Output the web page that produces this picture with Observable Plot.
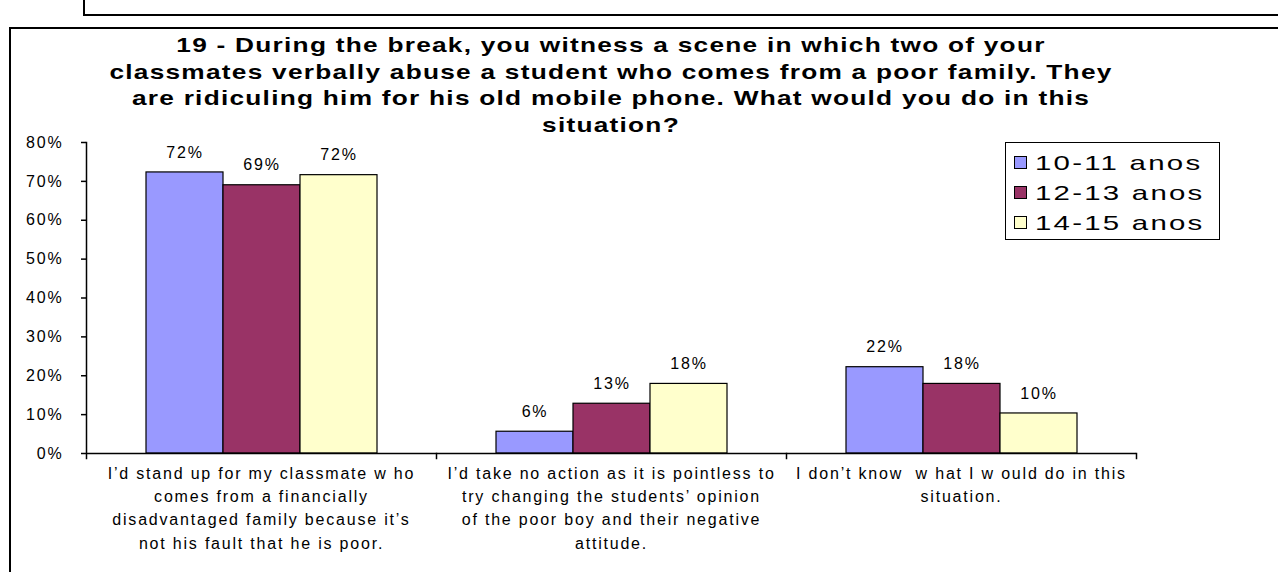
<!DOCTYPE html>
<html><head><meta charset="utf-8">
<script src="https://cdn.jsdelivr.net/npm/d3@7"></script>
<script src="https://cdn.jsdelivr.net/npm/@observablehq/plot@0.6"></script>
<style>
body{margin:0;background:#fff;font-family:"Liberation Sans",Arial,sans-serif;}
#wrap{position:relative;width:1278px;height:572px;overflow:hidden;background:#fff;}
#topbox{position:absolute;left:83px;top:-30px;width:1300px;height:42px;border:2px solid #000;}
#frame{position:absolute;left:9px;top:27px;width:1300px;height:600px;border:2px solid #000;}
#title{position:absolute;left:0;width:1222px;top:32px;text-align:center;font-weight:bold;font-size:21px;line-height:26.5px;letter-spacing:1px;color:#000;transform:scaleX(1.25);transform-origin:611px 0;}
#chart{position:absolute;left:0;top:0;}
#chart svg text{letter-spacing:1.8px;}
#legend{position:absolute;left:1005px;top:142px;width:213px;height:96px;border:1px solid #000;background:#fff;font-size:21px;}
#legend .item{position:absolute;left:8px;height:30px;line-height:30px;white-space:nowrap;}
#legend .sw{display:inline-block;width:11px;height:11px;border:1px solid #000;margin-right:8px;vertical-align:middle;position:relative;top:-2px;}
#legend .lb{display:inline-block;letter-spacing:1.6px;transform:scaleX(1.4);transform-origin:0 50%;}
</style>
</head><body>
<div id="wrap">
  <div id="topbox"></div>
  <div id="frame"></div>
  <div id="chart"></div>
  <div id="title"></div>
  <div id="legend"></div>
</div>
<script>
const titleLines = [
  "19 - During the break, you witness a scene in which two of your",
  "classmates verbally abuse a student who comes from a poor family. They",
  "are ridiculing him for his old mobile phone. What would you do in this",
  "situation?"
];
const categories = [
  "I’d stand up for my classmate w ho\ncomes from a financially\ndisadvantaged family because it’s\nnot his fault that he is poor.",
  "I’d take no action as it is pointless to\ntry changing the students’ opinion\nof the poor boy and their negative\nattitude.",
  "I don’t know  w hat I w ould do in this\nsituation."
];
const series = ["10-11 anos", "12-13 anos", "14-15 anos"];
const values1011 = [72.3, 5.6, 22.2];
const values1213 = [69.0, 12.8, 17.9];
const values1415 = [71.6, 17.9, 10.3];
const colors = ["#9999FF", "#993366", "#FFFFCC"];
const yTicks = [0, 10, 20, 30, 40, 50, 60, 70, 80];

const seriesValues = [values1011, values1213, values1415];
const data = categories.flatMap((c, i) => series.map((s, j) => ({cat: c, series: s, value: seriesValues[j][i]})));

document.getElementById("title").innerHTML = titleLines.join("<br>");

const W = 1278, H = 572, mL = 86, mR = 142, mT = 142, mB = 119;
const plotH = H - mT - mB;

const chart = Plot.plot({
  width: W, height: H,
  marginLeft: mL, marginRight: mR, marginTop: mT, marginBottom: mB,
  style: {fontFamily: "'Liberation Sans', Arial, sans-serif", fontSize: "16px", color: "#000", background: "transparent", overflow: "visible"},
  fx: {domain: categories, padding: 0, axis: null},
  x: {domain: series, paddingInner: 0, paddingOuter: 0.744, axis: null},
  y: {domain: [0, 80], axis: null},
  color: {domain: series, range: colors},
  marks: [
    Plot.axisY({ticks: yTicks, tickFormat: d => d + "%", tickSize: 5, tickPadding: 18, fontSize: 16, label: null, strokeWidth: 1.5}),
    Plot.frame({anchor: "left", facetAnchor: "left", insetBottom: -5, strokeWidth: 1.5}),
    Plot.frame({anchor: "right", insetTop: plotH, insetBottom: -5, strokeWidth: 1.5}),
    Plot.barY(data, {fx: "cat", x: "series", y: "value", fill: "series", stroke: "#000", strokeWidth: 1.2}),
    Plot.ruleY([0], {strokeWidth: 1.5}),
    Plot.text(data, {fx: "cat", x: "series", y: "value", text: d => Math.round(d.value) + "%", dy: -20, fontSize: 16}),
    Plot.text(categories, {fx: d => d, text: d => d, frameAnchor: "bottom", lineAnchor: "top", dy: 9, fontSize: 16, lineHeight: 1.45})
  ]
});
document.getElementById("chart").appendChild(chart);

const legend = document.getElementById("legend");
series.forEach((s, i) => {
  const item = document.createElement("div");
  item.className = "item";
  item.style.top = (5 + i * 30) + "px";
  const sw = document.createElement("span");
  sw.className = "sw";
  sw.style.background = colors[i];
  item.appendChild(sw);
  const lb = document.createElement("span");
  lb.className = "lb";
  lb.textContent = s;
  item.appendChild(lb);
  legend.appendChild(item);
});
</script>
</body></html>
